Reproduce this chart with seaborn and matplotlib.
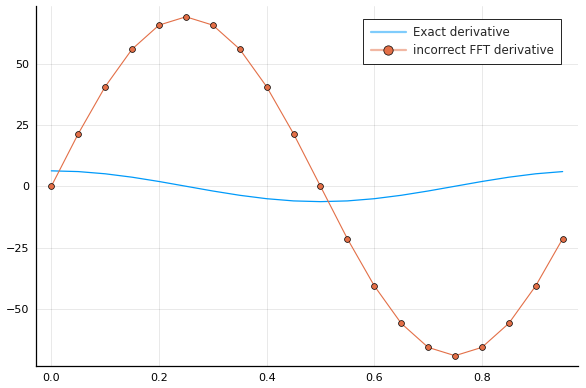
import numpy as np
import pandas as pd
import seaborn as sns
import matplotlib
matplotlib.use("Agg")
import matplotlib.pyplot as plt

# sample points
x = [0.0, 0.05, 0.1, 0.15, 0.2, 0.25, 0.3, 0.35, 0.4, 0.45,
     0.5, 0.55, 0.6, 0.65, 0.7, 0.75, 0.8, 0.85, 0.9, 0.95]
# exact derivative
exact = [6.28, 5.98, 5.08, 3.69, 1.94, 0.0, -1.94, -3.69, -5.08, -5.98,
         -6.28, -5.98, -5.08, -3.69, -1.94, 0.0, 1.94, 3.69, 5.08, 5.98]
# the wrong fft derivative (orange dots)
fft_wrong = [0.0, 21.4, 40.6, 55.9, 65.7, 69.1, 65.7, 55.9, 40.6, 21.4,
             0.0, -21.4, -40.6, -55.9, -65.7, -69.1, -65.7, -55.9, -40.6, -21.4]

df = pd.DataFrame({"x": x, "exact": exact, "fft": fft_wrong})

sns.set_style("white")
plt.rcParams['font.family'] = ['DejaVu Sans']

fig = plt.figure(figsize=(5.86, 3.88), dpi=100)
ax = fig.add_axes([36/586, 22/388, 542/586, 360/388])

sns.lineplot(data=df, x="x", y="exact", ax=ax, color="#009AFA", linewidth=0.9,
             label="Exact derivative")
sns.lineplot(data=df, x="x", y="fft", ax=ax, color="#E36F47", linewidth=0.8,
             marker="o", markersize=4.2, markeredgecolor="black", markeredgewidth=0.5,
             label="incorrect FFT derivative")

ax.set_xlim(-0.0285, 0.9785)
ax.set_ylim(-73.3, 73.5)
ax.set_xticks([0.0, 0.2, 0.4, 0.6, 0.8])
ax.set_yticks([-50, -25, 0, 25, 50])
ax.set_xticklabels(["0.0", "0.2", "0.4", "0.6", "0.8"])
ax.set_yticklabels(["\u221250", "\u221225", "0", "25", "50"])
ax.set_xlabel("")
ax.set_ylabel("")
ax.grid(True, color="black", alpha=0.1, linewidth=0.6)
for s in ["top", "right"]:
    ax.spines[s].set_visible(False)
for s in ["left", "bottom"]:
    ax.spines[s].set_color("black")
    ax.spines[s].set_linewidth(0.9)
ax.tick_params(direction="in", length=3, width=0.6, labelsize=8, colors="black", pad=5)

leg = ax.legend(loc="upper right", fontsize=8.6, frameon=True, fancybox=False,
                edgecolor="black", framealpha=1, borderpad=0.6, handlelength=3.0,
                labelspacing=0.45, handletextpad=0.55, markerscale=1.6,
                borderaxespad=0, bbox_to_anchor=(0.9686, 0.9647))
leg.get_frame().set_linewidth(0.6)
# legend lines look faded in the original
h = leg.legend_handles
h[0].set_color("#7FCCFC")
h[1].set_color("#F1B7A3")
h[1].set_markerfacecolor("#E36F47")
h[1].set_markeredgecolor("black")
h[1].set_linewidth(1.6)
h[0].set_linewidth(1.6)

fig.savefig("out.png", dpi=100)
